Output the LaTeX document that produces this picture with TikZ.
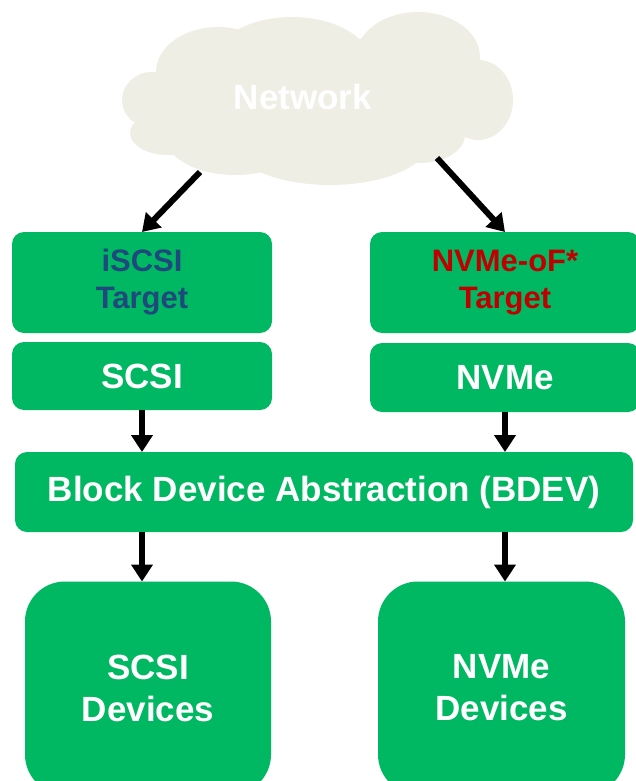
\documentclass[tikz,border=0pt]{standalone}
\usepackage{fontspec}
\setmainfont{Liberation Sans}
\usetikzlibrary{arrows.meta,positioning}
\definecolor{bdevgreen}{RGB}{0,184,98}
\definecolor{cloudgray}{RGB}{239,238,228}
\definecolor{iscsiblue}{RGB}{31,73,125}
\definecolor{nvmfred}{RGB}{192,0,0}
\tikzset{
	stack/.style={fill=bdevgreen, draw=none, rounded corners=12pt,
		inner sep=0pt, outer sep=0pt, align=center, text=white,
		font=\fontsize{35}{42}\selectfont\bfseries},
	stack target/.style={stack, font=\fontsize{31}{37}\selectfont\bfseries},
	stack dev/.style={stack, rounded corners=40pt},
	net label/.style={inner sep=0pt, text=white, font=\fontsize{35}{42}\selectfont\bfseries},
	puff/.style={fill=cloudgray, draw=none},
	ar/.style={line width=6pt, -{Triangle[length=17pt,width=21pt]}}
}

\begin{document}
\begin{tikzpicture}[x=1pt, y=-1pt]
	\useasboundingbox[fill=white] (0,0) rectangle (635,781);
	% cloud
	\fill[puff] (318,97) ellipse [x radius=170, y radius=60]
		(152,100) ellipse [x radius=30, y radius=28]
		(168,133) ellipse [x radius=38, y radius=22]
		(218,72) ellipse [x radius=62, y radius=45]
		(292,62) ellipse [x radius=78, y radius=45]
		(418,57) ellipse [x radius=62, y radius=45]
		(478,100) ellipse [x radius=35, y radius=40]
		(420,135) ellipse [x radius=45, y radius=28]
		(330,140) ellipse [x radius=100, y radius=45]
		(235,133) ellipse [x radius=72, y radius=42];
	\node[net label] (net) at (303,97) {Network};
	\node[stack target, text=iscsiblue, minimum width=260pt, minimum height=101pt] (iscsi) at (142,282.5) {iSCSI\\Target};
	\node[stack, minimum width=260pt, minimum height=68pt, below=9pt of iscsi] (scsi) {SCSI};
	\node[stack target, text=nvmfred, minimum width=270pt, minimum height=101pt] (nvmf) at (505,282.5) {NVMe-oF*\\Target};
	\node[stack, minimum width=270pt, minimum height=69pt, below=10pt of nvmf] (nvme) {NVMe};
	\node[stack, minimum width=618pt, minimum height=80pt] (bdev) at (324,492) {Block Device Abstraction (BDEV)};
	\node[stack dev, minimum width=246pt, minimum height=213pt] (scsidev) at (148,688) {SCSI\\Devices};
	\node[stack dev, minimum width=247pt, minimum height=213pt] (nvmedev) at (501.5,688) {NVMe\\Devices};
	% network side
	\coordinate (netL) at (200,172);
	\coordinate (netR) at (437,158);
	\draw[ar] (netL) -- (iscsi.north);
	\draw[ar] (netR) -- (nvmf.north);
	% into and out of bdev
	\draw[ar] (scsi.south) -- (scsi.south |- bdev.north);
	\draw[ar] (nvme.south) -- (nvme.south |- bdev.north);
	\draw[ar] (bdev.south -| scsi.south) -- (scsi.south |- scsidev.north);
	\draw[ar] (bdev.south -| nvme.south) -- (nvme.south |- nvmedev.north);
\end{tikzpicture}
\end{document}
